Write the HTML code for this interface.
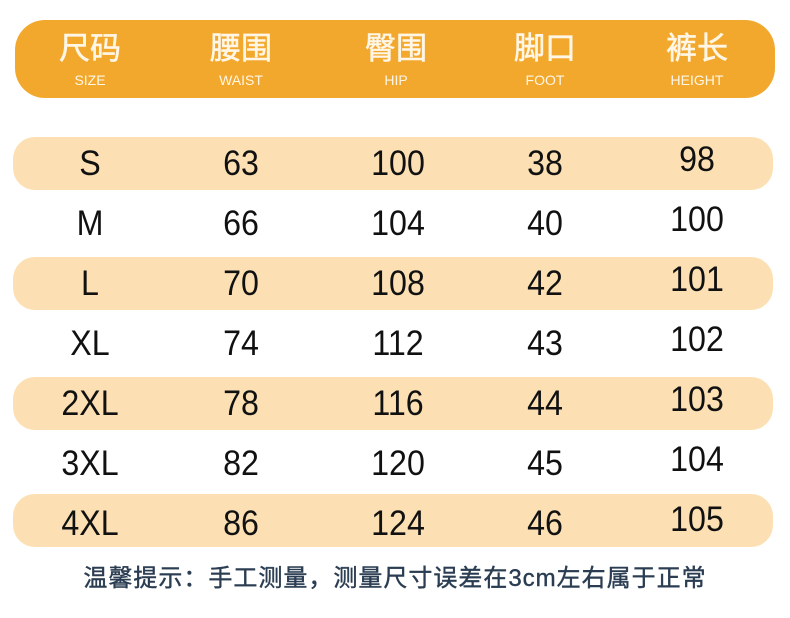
<!DOCTYPE html>
<html><head><meta charset="utf-8"><style>
body{margin:0;width:790px;height:618px;background:#fff;position:relative;overflow:hidden;font-family:"Liberation Sans","Noto Sans CJK SC",sans-serif}
.hdr{position:absolute;left:15px;top:20px;width:760px;height:78px;background:#F2A82C;border-radius:30px}
.stripe{position:absolute;left:13px;width:760px;height:53px;background:#FCE0B3;border-radius:22px}
.c{position:absolute;transform:translateX(-50%);text-align:center;white-space:nowrap}
.h1{color:#fff6e6;font-size:31px;top:30px;line-height:38px;-webkit-text-stroke:0.6px #fff6e6}
.h2{color:#fff6e6;font-size:14px;top:73px;line-height:15px}
.n{font-size:35px;color:#111;line-height:38px}
.n span{display:inline-block;transform:scaleX(0.92)}
.foot{position:absolute;left:0;width:790px;top:563px;text-align:center;font-size:24px;color:#2b3d52;line-height:32px;-webkit-text-stroke:0.4px #2b3d52;letter-spacing:1px}
</style></head><body>
<div class="hdr"></div>
<div class="c h1" style="left:90px">尺码</div><div class="c h2" style="left:90px">SIZE</div>
<div class="c h1" style="left:241px">腰围</div><div class="c h2" style="left:241px">WAIST</div>
<div class="c h1" style="left:396px">臀围</div><div class="c h2" style="left:396px">HIP</div>
<div class="c h1" style="left:545px">脚口</div><div class="c h2" style="left:545px">FOOT</div>
<div class="c h1" style="left:697px">裤长</div><div class="c h2" style="left:697px">HEIGHT</div>
<div class="stripe" style="top:137px"></div>
<div class="stripe" style="top:257px"></div>
<div class="stripe" style="top:377px"></div>
<div class="stripe" style="top:494px"></div>
<div class="foot">温馨提示：手工测量，测量尺寸误差在3cm左右属于正常</div>
<div class="c n" style="left:90px;top:145px"><span>S</span></div><div class="c n" style="left:241px;top:145px"><span>63</span></div><div class="c n" style="left:398px;top:145px"><span>100</span></div><div class="c n" style="left:545px;top:145px"><span>38</span></div><div class="c n" style="left:697px;top:141px"><span>98</span></div>
<div class="c n" style="left:90px;top:205px"><span>M</span></div><div class="c n" style="left:241px;top:205px"><span>66</span></div><div class="c n" style="left:398px;top:205px"><span>104</span></div><div class="c n" style="left:545px;top:205px"><span>40</span></div><div class="c n" style="left:697px;top:201px"><span>100</span></div>
<div class="c n" style="left:90px;top:265px"><span>L</span></div><div class="c n" style="left:241px;top:265px"><span>70</span></div><div class="c n" style="left:398px;top:265px"><span>108</span></div><div class="c n" style="left:545px;top:265px"><span>42</span></div><div class="c n" style="left:697px;top:261px"><span>101</span></div>
<div class="c n" style="left:90px;top:325px"><span>XL</span></div><div class="c n" style="left:241px;top:325px"><span>74</span></div><div class="c n" style="left:398px;top:325px"><span>112</span></div><div class="c n" style="left:545px;top:325px"><span>43</span></div><div class="c n" style="left:697px;top:321px"><span>102</span></div>
<div class="c n" style="left:90px;top:385px"><span>2XL</span></div><div class="c n" style="left:241px;top:385px"><span>78</span></div><div class="c n" style="left:398px;top:385px"><span>116</span></div><div class="c n" style="left:545px;top:385px"><span>44</span></div><div class="c n" style="left:697px;top:381px"><span>103</span></div>
<div class="c n" style="left:90px;top:445px"><span>3XL</span></div><div class="c n" style="left:241px;top:445px"><span>82</span></div><div class="c n" style="left:398px;top:445px"><span>120</span></div><div class="c n" style="left:545px;top:445px"><span>45</span></div><div class="c n" style="left:697px;top:441px"><span>104</span></div>
<div class="c n" style="left:90px;top:505px"><span>4XL</span></div><div class="c n" style="left:241px;top:505px"><span>86</span></div><div class="c n" style="left:398px;top:505px"><span>124</span></div><div class="c n" style="left:545px;top:505px"><span>46</span></div><div class="c n" style="left:697px;top:501px"><span>105</span></div>
</body></html>
